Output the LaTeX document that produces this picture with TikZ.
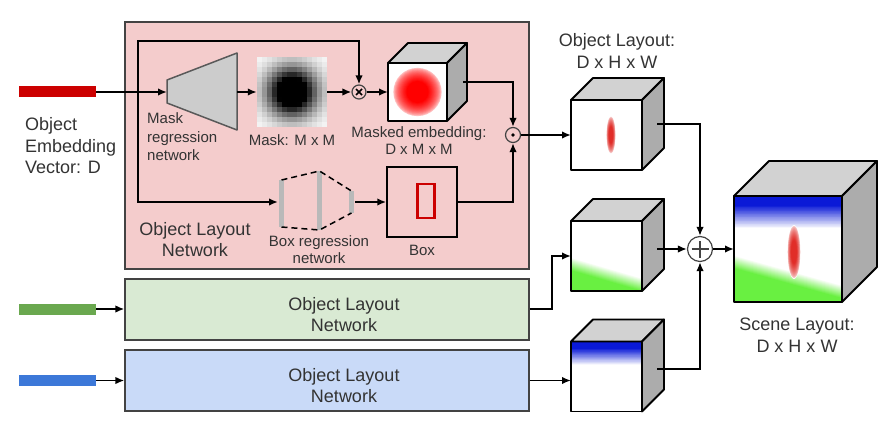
\documentclass[tikz,border=0pt]{standalone}
\usepackage{fontspec}
\setmainfont{Liberation Sans}
\usetikzlibrary{positioning, calc, arrows.meta}

\definecolor{barred}{RGB}{204,0,0}
\definecolor{bargreen}{RGB}{106,168,79}
\definecolor{barblue}{RGB}{60,120,216}
\definecolor{netpink}{RGB}{244,204,204}
\definecolor{netgreen}{RGB}{217,234,211}
\definecolor{netblue}{RGB}{201,218,248}
\definecolor{edgegray}{RGB}{67,67,67}
\definecolor{lgreen}{RGB}{105,240,65}
\definecolor{dblue}{RGB}{10,25,215}
\definecolor{spotred}{RGB}{255,0,0}
\definecolor{slimred}{RGB}{225,45,40}

\tikzset{
	embbar/.style={fill=#1, minimum width=77pt, minimum height=11pt, inner sep=0pt},
	netbox/.style={draw=edgegray, line width=1.2pt, fill=#1, minimum width=404pt, inner sep=0pt},
	face/.style={draw, line width=1.8pt, fill=white, inner sep=0pt, outer sep=0pt, line join=round},
	cubeline/.style={draw, line width=1.8pt, line join=round},
	conn/.style={line width=1.8pt, -{Latex[length=9pt, width=7.5pt]}},
	op/.style={circle, draw=edgegray, line width=1.2pt, inner sep=0pt, minimum size=#1},
	bigtext/.style={font=\fontsize{18}{21.5}\selectfont, text=black!80, align=center, inner sep=2pt},
	smalltext/.style={font=\fontsize{15}{17.5}\selectfont, text=black!80, align=center, inner sep=2pt}
}

% top and right faces of a cube whose front face is node #1
\newcommand{\cubeback}[2]{%
	\draw[cubeline, fill=gray!35] (#1.north west) -- ++(#2,#2) -- ($(#1.north east)+(#2,#2)$) -- (#1.north east) -- cycle;
	\draw[cubeline, fill=gray!65] (#1.north east) -- ++(#2,#2) -- ($(#1.south east)+(#2,#2)$) -- (#1.south east) -- cycle;}
% slanted green ground, used inside a path picture
\newcommand{\greenfade}[3]{%
	\foreach \st [evaluate=\st as \gval using \st*100/13] in {0,...,13}
		\fill[lgreen!\gval] ($(path picture bounding box.center)+(-#3,#1-\st)$) -- ($(path picture bounding box.center)+(#3,#2-\st)$) -- ($(path picture bounding box.center)+(#3,-#3-5)$) -- ($(path picture bounding box.center)+(-#3,-#3-5)$) -- cycle;}
% blue sky, used inside a path picture
\newcommand{\bluefade}[1]{%
	\foreach \st [evaluate=\st as \gval using \st*100/30, evaluate=\st as \hv using #1*(1-0.7*\st/30)] in {0,...,30}
		\fill[dblue!\gval] (path picture bounding box.north west) rectangle ($(path picture bounding box.north east)+(0,-\hv)$);}
% soft red spot: offset x, offset y, x radius, y radius, colour
\newcommand{\redfade}[5]{%
	\foreach \st [evaluate=\st as \gval using 100*sqrt(\st/16), evaluate=\st as \rxv using #3*(1-\st*0.035), evaluate=\st as \ryv using #4*(1-\st*0.035)] in {0,...,16}
		\fill[#5!\gval] ($(path picture bounding box.center)+(#1,#2)$) ellipse (\rxv pt and \ryv pt);}

\begin{document}
\begin{tikzpicture}[x=1pt, y=1pt]
	\useasboundingbox (0,0) rectangle (895,424);
	% networks
	\node[netbox=netpink, minimum height=247pt] (olnet) at (327,278.5) {};
	\node[netbox=netgreen, minimum height=61pt] (olnet2) at (327,114.5) {};
	\node[netbox=netblue, minimum height=61pt] (olnet3) at (327,43.5) {};
	\node[bigtext] at (195,184.5) {Object Layout\\Network};
	\node[bigtext] at (344,109.5) {Object Layout\\Network};
	\node[bigtext] at (344,38.5) {Object Layout\\Network};
	% embedding vectors
	\node[embbar=barred] (redbar) at (57.5,332) {};
	\node[embbar=bargreen] (greenbar) at (57.5,115) {};
	\node[embbar=barblue] (bluebar) at (57.5,43.5) {};
	\node[bigtext, anchor=west, align=left] at (23,278) {Object\\Embedding\\Vector: D};
	% mask regression network
	\draw[line width=1.5pt, draw=black!65, fill=gray!40, line join=round] (167,344) -- (167,321) -- (237,294) -- (237,371) -- cycle;
	\coordinate (mregin) at (167,332);
	\coordinate (mregout) at (237,332);
	\node[smalltext, anchor=west, align=left, font=\fontsize{15}{18.5}\selectfont] at (145,287) {Mask\\regression\\network};
	% mask
	\node[fill=white, minimum size=70pt, inner sep=0pt] (mask) at (292,332) {};
	\foreach \col in {0,...,13}
		\foreach \row in {0,...,13} {
			\pgfmathsetmacro\gray{min(100,140*exp(-((\col-6.5)^2+(\row-6.5)^2)/25))}
			\fill[black!\gray] ($(mask.south west)+(5*\col,5*\row)$) rectangle +(5,5);
		}
	\node[smalltext] at (292,284) {Mask: M x M};
	\node[op=14pt, path picture={\draw[line width=1.6pt, black] ($(path picture bounding box.center)+(-3,-3)$) -- +(6,6) ($(path picture bounding box.center)+(-3,3)$) -- +(6,-6);}] (times) at (359,332) {};
	% masked embedding
	\node[face, minimum width=59pt, minimum height=58pt, path picture={\redfade{0}{0}{25}{25}{spotred}}] (membed) at (417.5,332) {};
	\cubeback{membed}{20}
	\node[smalltext] at (419,283.5) {Masked embedding:\\D x M x M};
	% box regression network
	\fill[gray!55] (279,197) rectangle (284,244);
	\fill[gray!55] (317,194) rectangle (322,253);
	\fill[gray!55] (349,211) rectangle (354,233);
	\draw[line width=1.5pt, dash pattern=on 6pt off 4pt] (281.5,244) -- (319.5,253) -- (351.5,233);
	\draw[line width=1.5pt, dash pattern=on 6pt off 4pt] (281.5,197) -- (319.5,194) -- (351.5,211);
	\coordinate (bregin) at (278,222);
	\coordinate (bregout) at (355,222);
	\node[smalltext] at (319,174.5) {Box regression\\network};
	% box
	\node[draw, line width=1.5pt, minimum size=70pt, inner sep=0pt] (box) at (422,222) {};
	\draw[barred, line width=2.5pt] (417.5,206) rectangle (434.5,240);
	\node[smalltext] at (422,174) {Box};
	\node[op=15pt, path picture={\fill (path picture bounding box.center) circle (1.8);}] (dotop) at (513,289) {};
	% object layouts
	\node[face, minimum width=71pt, minimum height=70pt, path picture={\redfade{4.5}{0}{4.5}{19}{slimred}}] (layout1) at (606.5,289) {};
	\cubeback{layout1}{22}
	\node[bigtext] at (617,373) {Object Layout:\\D x H x W};
	\node[face, minimum width=71pt, minimum height=70pt, path picture={\greenfade{-1}{-22}{36}}] (layout2) at (606.5,168) {};
	\cubeback{layout2}{22}
	\node[face, minimum width=71pt, minimum height=70pt, path picture={\bluefade{24}}] (layout3) at (606.5,47.5) {};
	\cubeback{layout3}{22}
	% sum and scene layout
	\node[op=25pt, path picture={\draw[line width=2.5pt] ($(path picture bounding box.center)+(-8.5,0)$) -- +(17,0) ($(path picture bounding box.center)+(0,-8.5)$) -- +(0,17);}] (plus) at (700,175) {};
	\node[face, minimum width=108pt, minimum height=106pt, path picture={\bluefade{33}\greenfade{-6}{-36}{54}\redfade{6}{-3}{6.5}{27}{slimred}}] (scene) at (788,175) {};
	\cubeback{scene}{35}
	\node[bigtext] at (797,89) {Scene Layout:\\D x H x W};
	% connectors
	\coordinate (split) at (138,332);
	\draw[conn] (redbar) -- (mregin);
	\draw[conn] (split) -- ++(0,51) -| (times.north);
	\draw[conn] (split) |- (bregin);
	\draw[conn] (mregout) -- (mask);
	\draw[conn] (mask) -- (times);
	\draw[conn] (times) -- (membed);
	\draw[conn] ($(membed.east)+(16,10)$) -| (dotop.north);
	\draw[conn] (bregout) -- (box);
	\draw[conn] (box) -| (dotop.south);
	\draw[conn] (dotop) -- (layout1);
	\draw[conn] (greenbar) -- (greenbar -| olnet2.west);
	\draw[conn] (bluebar) -- (bluebar -| olnet3.west);
	\draw[conn] (greenbar -| olnet2.east) -- ++(22,0) |- (layout2);
	\draw[conn] (bluebar -| olnet3.east) -- (bluebar -| layout3.west);
	\draw[conn] ($(layout1.east)+(15,11)$) -| (plus);
	\draw[conn] ($(plus -| layout2.east)+(15,0)$) -- (plus);
	\draw[conn] ($(layout3.east)+(15,7.5)$) -| (plus);
	\draw[conn] (plus) -- (scene);
\end{tikzpicture}
\end{document}
